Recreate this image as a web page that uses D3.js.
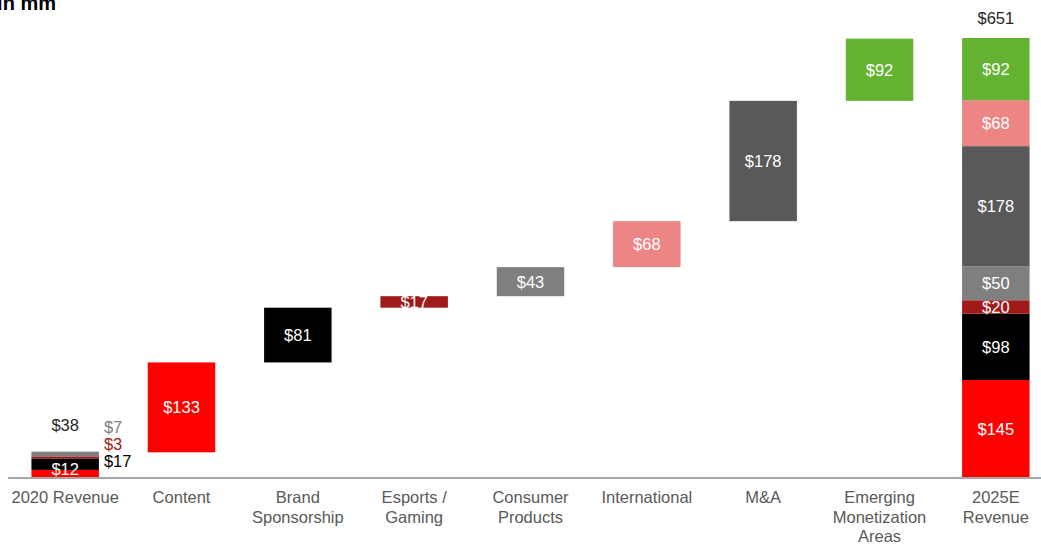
<!DOCTYPE html>
<html>
<head>
<meta charset="utf-8">
<script src="https://cdn.jsdelivr.net/npm/d3@7"></script>
<style>
  body { margin: 0; background: #fff; }
  svg { font-family: Arial, "Liberation Sans", sans-serif; }
</style>
</head>
<body>
<svg id="chart" width="1041" height="545"></svg>
<script>
// categories along the x axis (line breaks with |)
const categories = ["2020 Revenue", "Content", "Brand|Sponsorship", "Esports /|Gaming", "Consumer|Products", "International", "M&A", "Emerging|Monetization|Areas", "2025E|Revenue"];

// 2020 stack, bottom to top
const start2020 = [12, 17, 3, 7];
const start2020Total = 38;

// waterfall steps (Content .. Emerging)
const steps = [133, 81, 17, 43, 68, 178, 92];

// 2025E stack, bottom to top
const end2025 = [145, 98, 20, 50, 178, 68, 92];
const end2025Total = 651;

const stackColors = ["#ff0000", "#000000", "#a01a1a", "#7f7f7f", "#595959", "#ee8585", "#64b232"];
const stepColors = ["#ff0000", "#000000", "#a01a1a", "#7f7f7f", "#ee8585", "#595959", "#64b232"];

const svg = d3.select("#chart");
const baseY = 478;
const fs = 16.5;

const x = d3.scaleBand()
  .domain(categories)
  .range([7, 1054])
  .paddingInner(0.42)
  .paddingOuter(0.21);

const y = d3.scaleLinear()
  .domain([0, 651])
  .range([baseY, 38]);

// unit label at the top-left (partly off the page in the source)
svg.append("text")
  .attr("x", 56).attr("y", 10)
  .attr("text-anchor", "end")
  .attr("font-size", 20).attr("font-weight", "bold")
  .attr("fill", "#000")
  .text("$ in mm");

// 2020 stacked bar
let acc = 0;
const s2020 = start2020.map((v, i) => { const o = { v, y0: acc, y1: acc + v, c: stackColors[i] }; acc += v; return o; });
svg.append("g").selectAll("rect").data(s2020).join("rect")
  .attr("x", x(categories[0]))
  .attr("width", x.bandwidth())
  .attr("y", d => y(d.y1))
  .attr("height", d => y(d.y0) - y(d.y1))
  .attr("fill", d => d.c);

svg.append("text")
  .attr("x", x(categories[0]) + x.bandwidth() / 2)
  .attr("y", y(s2020[0].y1) + 5)
  .attr("text-anchor", "middle").attr("font-size", fs).attr("fill", "#fff")
  .text("$" + start2020[0]);

// side labels for 2020 segments
const sideLabels = [
  { t: "$" + start2020[3], c: "#808080", dy: 0 },
  { t: "$" + start2020[2], c: "#a01a1a", dy: 17 },
  { t: "$" + start2020[1], c: "#000000", dy: 34 }
];
svg.append("g").selectAll("text").data(sideLabels).join("text")
  .attr("x", x(categories[0]) + x.bandwidth() + 5)
  .attr("y", d => 433 + d.dy)
  .attr("font-size", fs)
  .attr("fill", d => d.c)
  .text(d => d.t);

svg.append("text")
  .attr("x", x(categories[0]) + x.bandwidth() / 2)
  .attr("y", y(start2020Total) - 21)
  .attr("text-anchor", "middle").attr("font-size", fs).attr("fill", "#262626")
  .text("$" + start2020Total);

// waterfall steps
let run = start2020Total;
const wf = steps.map((v, i) => { const o = { v, y0: run, y1: run + v, c: stepColors[i], cat: categories[i + 1] }; run += v; return o; });
const wg = svg.append("g");
wg.selectAll("rect").data(wf).join("rect")
  .attr("x", d => x(d.cat))
  .attr("width", x.bandwidth())
  .attr("y", d => y(d.y1))
  .attr("height", d => y(d.y0) - y(d.y1))
  .attr("fill", d => d.c);
wg.selectAll("text").data(wf).join("text")
  .attr("x", d => x(d.cat) + x.bandwidth() / 2)
  .attr("y", d => (y(d.y0) + y(d.y1)) / 2 + 6)
  .attr("text-anchor", "middle").attr("font-size", fs)
  .attr("fill", "#fff")
  .text(d => "$" + d.v);

// 2025E stacked bar
acc = 0;
const s2025 = end2025.map((v, i) => { const o = { v, y0: acc, y1: acc + v, c: stackColors[i] }; acc += v; return o; });
const lastCat = categories[categories.length - 1];
const eg = svg.append("g");
eg.selectAll("rect").data(s2025).join("rect")
  .attr("x", x(lastCat))
  .attr("width", x.bandwidth())
  .attr("y", d => y(d.y1))
  .attr("height", d => y(d.y0) - y(d.y1))
  .attr("fill", d => d.c);
eg.selectAll("text").data(s2025).join("text")
  .attr("x", x(lastCat) + x.bandwidth() / 2)
  .attr("y", d => (y(d.y0) + y(d.y1)) / 2 + 6)
  .attr("text-anchor", "middle").attr("font-size", fs).attr("fill", "#fff")
  .text(d => "$" + d.v);

svg.append("text")
  .attr("x", x(lastCat) + x.bandwidth() / 2)
  .attr("y", y(end2025Total) - 14)
  .attr("text-anchor", "middle").attr("font-size", fs).attr("fill", "#262626")
  .text("$" + end2025Total);

// x axis
const xAxis = svg.append("g")
  .attr("transform", "translate(0," + baseY + ")")
  .call(d3.axisBottom(x).tickSize(0).tickFormat(""));
xAxis.select(".domain").attr("stroke", "#a6a6a6").attr("stroke-width", 2).attr("d", "M8,0H1041");

xAxis.selectAll(".tick").each(function(d) {
  const t = d3.select(this).append("text")
    .attr("text-anchor", "middle")
    .attr("font-size", 16.5)
    .attr("fill", "#595959")
    .attr("y", 25);
  d.split("|").forEach((line, i) => {
    t.append("tspan").attr("x", 0).attr("dy", i === 0 ? 0 : 19.5).text(line);
  });
});
</script>
</body>
</html>
